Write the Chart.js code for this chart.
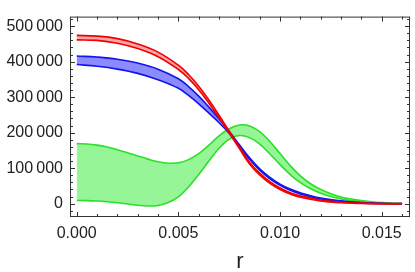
<!DOCTYPE html>
<html>
<head>
<meta charset="utf-8">
<script src="https://cdn.jsdelivr.net/npm/chart.js@4/dist/chart.umd.min.js"></script>
<style>
  html, body { margin: 0; padding: 0; background: #fff; }
  #wrap { width: 415px; height: 272px; }
</style>
</head>
<body>
<div id="wrap"><canvas id="chart" width="415" height="272"></canvas></div>
<script>
// radius samples (r) and band edges
const rRB = [0, 0.001, 0.002, 0.003, 0.004, 0.005, 0.0055, 0.006, 0.0065, 0.007, 0.0075, 0.008, 0.0085, 0.009, 0.0095, 0.010, 0.0105, 0.011, 0.012, 0.013, 0.014, 0.015, 0.016];
const redUpper = [474000, 472000, 465000, 450000, 427000, 390000, 364000, 331000, 292000, 249000, 204000, 160000, 117000, 86000, 62000, 44000, 31000, 22000, 10000, 4000, 1500, 500, 0];
const redLower = [461500, 460000, 452000, 437000, 414000, 378000, 353000, 321000, 283000, 242000, 199000, 155000, 112000, 81000, 57000, 40000, 27000, 18000, 7500, 2500, 500, -500, -800];
const blueUpper = [416000, 413000, 407000, 396000, 379000, 352000, 330000, 303000, 272000, 239000, 204000, 166000, 129000, 98000, 74000, 55000, 41000, 30500, 16000, 8000, 3200, 1000, 0];
const blueLower = [392000, 387000, 379000, 367000, 349000, 325000, 305000, 281000, 255000, 228000, 198000, 161000, 125000, 94000, 70000, 52000, 38000, 27500, 13000, 6000, 1800, 300, -800];

const rGreen = [0, 0.0005, 0.001, 0.0015, 0.002, 0.0025, 0.003, 0.0035, 0.004, 0.0045, 0.005, 0.0055, 0.006, 0.0065, 0.007, 0.0075, 0.008, 0.0085, 0.009, 0.0095, 0.010, 0.0105, 0.011, 0.0115, 0.012, 0.0125, 0.013, 0.0135, 0.014, 0.0145, 0.015, 0.0155, 0.016];
const greenUpper = [169000, 168000, 165000, 159500, 152000, 143500, 134500, 125500, 118000, 114000, 115000, 124000, 141000, 165000, 191000, 211000, 221500, 219000, 203000, 175000, 141000, 107000, 78000, 56000, 40000, 28000, 19000, 13000, 8500, 5500, 3200, 1600, 500];
const greenLower = [9000, 8500, 7300, 5300, 2500, -1000, -4500, -6500, -5000, 3000, 19000, 47000, 82000, 120000, 156000, 182000, 192000, 186000, 168000, 140000, 110000, 82000, 59000, 42000, 29500, 20000, 13000, 8500, 5500, 3200, 1600, 600, 0];

const xTicks = [0, 0.005, 0.010, 0.015];
const xTickLabels = ['0.000', '0.005', '0.010', '0.015'];
const yTicks = [0, 100000, 200000, 300000, 400000, 500000];
const yTickLabels = ['0', '100\u2009000', '200\u2009000', '300\u2009000', '400\u2009000', '500\u2009000'];

const toPts = (xs, ys) => xs.map((x, i) => ({ x, y: ys[i] }));

function band(label, xs, upper, lower, line, fill) {
  const common = { borderColor: line, borderWidth: 1.6, pointRadius: 0, tension: 0.4 };
  return [
    { label: label + ' upper', data: toPts(xs, upper), fill: false, ...common },
    { label: label + ' lower', data: toPts(xs, lower), fill: '-1', backgroundColor: fill, ...common }
  ];
}

// frame with inward major/minor ticks on all four sides
const frameTicks = {
  id: 'frameTicks',
  afterDatasetsDraw(chart) {
    const { ctx, chartArea: a, scales: { x, y } } = chart;
    ctx.save();
    ctx.strokeStyle = '#333';
    ctx.lineWidth = 1;
    ctx.strokeRect(a.left + 0.5, a.top + 0.5, a.width - 1, a.height - 1);
    ctx.beginPath();
    for (let i = 0; i <= 16; i++) {
      const v = i * 0.001;
      const px = Math.round(x.getPixelForValue(v)) + 0.5;
      const len = i % 5 === 0 ? 5 : 3;
      ctx.moveTo(px, a.bottom); ctx.lineTo(px, a.bottom - len);
      ctx.moveTo(px, a.top); ctx.lineTo(px, a.top + len);
    }
    for (let i = -1; i <= 26; i++) {
      const v = i * 20000;
      const py = Math.round(y.getPixelForValue(v)) + 0.5;
      const len = i % 5 === 0 ? 5 : 3;
      ctx.moveTo(a.left, py); ctx.lineTo(a.left + len, py);
      ctx.moveTo(a.right, py); ctx.lineTo(a.right - len, py);
    }
    ctx.stroke();
    // axis label
    ctx.fillStyle = '#222';
    ctx.font = '22px "Liberation Sans"';
    ctx.textAlign = 'center';
    ctx.textBaseline = 'alphabetic';
    ctx.fillText('r', (a.left + a.right) / 2, 268);
    ctx.restore();
  }
};

Chart.defaults.font.family = '"Liberation Sans", Arial, sans-serif';

new Chart(document.getElementById('chart'), {
  type: 'line',
  data: {
    datasets: [
      ...band('red', rRB, redUpper, redLower, 'rgb(240,0,0)', 'rgba(255,90,90,0.55)'),
      ...band('blue', rRB, blueUpper, blueLower, 'rgb(20,20,235)', 'rgba(110,110,255,0.8)'),
      ...band('green', rGreen, greenUpper, greenLower, 'rgb(40,225,40)', 'rgba(150,245,150,1)')
    ]
  },
  options: {
    responsive: false,
    animation: false,
    layout: { padding: { top: 7, right: 5, left: 0, bottom: 0 } },
    plugins: { legend: { display: false }, tooltip: { enabled: false } },
    scales: {
      x: {
        type: 'linear', min: -0.00033, max: 0.01639,
        grid: { display: false, drawTicks: false }, border: { display: false },
        afterBuildTicks: s => { s.ticks = xTicks.map(v => ({ value: v })); },
        afterFit: s => { s.height = 55; },
        ticks: {
          padding: 7, color: '#222', font: { size: 16 }, maxRotation: 0,
          callback: v => xTickLabels[xTicks.indexOf(v)]
        }
      },
      y: {
        type: 'linear', min: -37600, max: 527000,
        grid: { display: false, drawTicks: false }, border: { display: false },
        afterBuildTicks: s => { s.ticks = yTicks.map(v => ({ value: v })); },
        afterFit: s => { s.width = 70; },
        ticks: {
          padding: 7, color: '#222', font: { size: 16 },
          callback: v => yTickLabels[yTicks.indexOf(v)]
        }
      }
    }
  },
  plugins: [frameTicks]
});
</script>
</body>
</html>
